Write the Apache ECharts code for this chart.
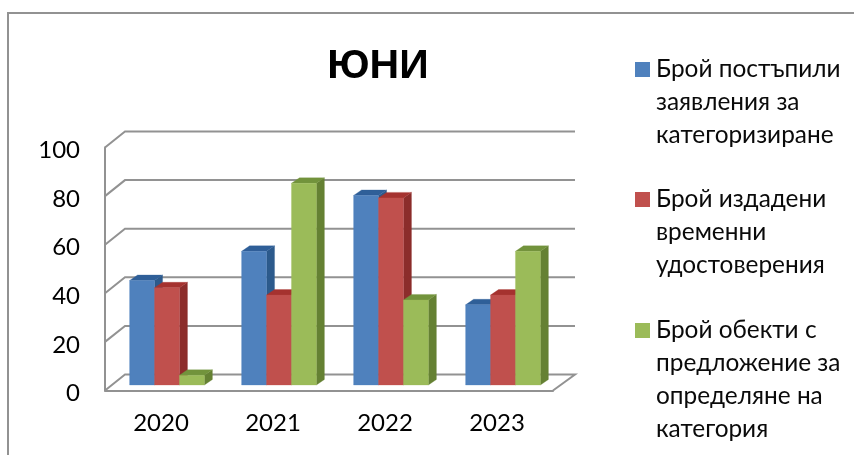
<!DOCTYPE html>
<html>
<head>
<meta charset="utf-8">
<style>html,body{margin:0;padding:0;background:#fff}#c{width:854px;height:455px}</style>
<script src="https://cdn.jsdelivr.net/npm/echarts@6/dist/echarts.min.js"></script>
</head>
<body>
<div id="c"></div>
<script>
var titleText = 'ЮНИ';
var categories = ['2020', '2021', '2022', '2023'];
var yTicks = [0, 20, 40, 60, 80, 100];
var submitted = [43, 55, 78, 33];
var issued = [40, 37, 77, 37];
var proposed = [4, 83, 35, 55];
var legendLines = [
  ['Брой постъпили', 'заявления за', 'категоризиране'],
  ['Брой издадени', 'временни', 'удостоверения'],
  ['Брой обекти с', 'предложение за', 'определяне на', 'категория']
];
var valueSets = [submitted, issued, proposed];
var faces = [
  {front: '#4f81bd', top: '#2f5f98', side: '#2c5a8c'},
  {front: '#c0504d', top: '#a5322f', side: '#8c2d2b'},
  {front: '#9bbb59', top: '#72933c', side: '#658133'}
];
var lineColor = '#929292';
var fontFamily = 'Lato, Carlito, "Noto Sans", sans-serif';
var wallDx = 20, wallDy = -16, floorDx = 7, floorDy = -5.5, barDx = 8, barDy = -5.5;
var barShare = 0.2226, groupShift = 6;

function poly(points, fill) {
  return {type: 'polygon', shape: {points: points}, style: {fill: fill, stroke: fill, lineWidth: 0.3}};
}
function barRenderer(idx) {
  return function (params, api) {
    var top = api.coord([api.value(0), api.value(1)]);
    var base = api.coord([api.value(0), 0]);
    var w = api.size([1, 0])[0] * barShare;
    var x0 = top[0] + groupShift + floorDx + (idx - 1.5) * w - 7;
    var x1 = x0 + w;
    var yT = top[1] + floorDy, yB = base[1] + floorDy;
    var c = faces[idx];
    return {type: 'group', children: [
      poly([[x1, yT], [x1 + barDx, yT + barDy], [x1 + barDx, yB + barDy], [x1, yB]], c.side),
      poly([[x0, yT], [x0 + barDx, yT + barDy], [x1 + barDx, yT + barDy], [x1, yT]], c.top),
      poly([[x0, yT], [x1, yT], [x1, yB], [x0, yB]], c.front)
    ]};
  };
}
function wallRenderer(params, api) {
  var p = api.coord([0, api.value(0)]);
  var cs = params.coordSys;
  var left = cs.x, right = cs.x + cs.width;
  var pts = [[left, p[1]], [left + wallDx, p[1] + wallDy], [right + wallDx + 2, p[1] + wallDy]];
  if (api.value(0) === 0) pts.push([right, p[1]]);
  return {type: 'polyline', shape: {points: pts}, style: {fill: 'none', stroke: lineColor, lineWidth: 2}};
}
var seriesList = [{
  type: 'custom', name: 'wall', silent: true, clip: false, z: 1,
  renderItem: wallRenderer,
  data: yTicks.map(function (v) { return [v]; }),
  encode: {y: 0}
}];
legendLines.forEach(function (lines, i) {
  seriesList.push({
    type: 'custom', name: lines.join(' '), clip: false, z: 2 + i,
    itemStyle: {color: faces[i].front},
    renderItem: barRenderer(i),
    data: valueSets[i].map(function (v, k) { return [k, v]; }),
    encode: {x: 0, y: 1}
  });
});
var legendTops = [-13, 117, 215];
var legends = legendLines.map(function (lines, i) {
  var pad = [];
  for (var k = 0; k < lines.length - 1; k++) pad.push(' ');
  var text = pad.concat(lines).join('\n');
  return {
    data: [lines.join(' ')], left: 635, top: legendTops[i], padding: 0, orient: 'vertical',
    icon: 'rect', itemWidth: 15, itemHeight: 15, itemGap: 0, selectedMode: false,
    formatter: function () { return text; },
    textStyle: {color: '#0a0a0a', fontFamily: fontFamily, fontSize: 24.4, lineHeight: 33, padding: [0, 0, 0, 1]}
  };
});
var chart = echarts.init(document.getElementById('c'), null, {renderer: 'canvas'});
chart.setOption({
  animation: false,
  backgroundColor: '#fff',
  title: {text: titleText, left: 373, top: 41, textAlign: 'center',
    textStyle: {color: '#000', fontFamily: '"Liberation Sans", Arial, sans-serif', fontWeight: 'bold', fontSize: 41}},
  legend: legends,
  grid: {left: 105, right: 301, top: 147.5, bottom: 64.5},
  xAxis: {type: 'category', data: categories,
    axisLine: {show: true, lineStyle: {color: lineColor, width: 2}},
    axisTick: {show: false},
    axisLabel: {color: '#000', fontFamily: fontFamily, fontSize: 24, margin: 21},
    splitLine: {show: false}},
  yAxis: {type: 'value', min: 0, max: 100, interval: 20,
    axisLine: {show: true, lineStyle: {color: lineColor, width: 2}},
    axisTick: {show: false},
    axisLabel: {color: '#000', fontFamily: fontFamily, fontSize: 24, margin: 25, verticalAlign: 'top', lineHeight: 6},
    splitLine: {show: false}},
  graphic: [
    {type: 'polyline', silent: true, shape: {points: [[8, 455], [8, 13], [854, 13]]},
     style: {fill: 'none', stroke: lineColor, lineWidth: 2}}
  ],
  series: seriesList
});
</script>
</body>
</html>
